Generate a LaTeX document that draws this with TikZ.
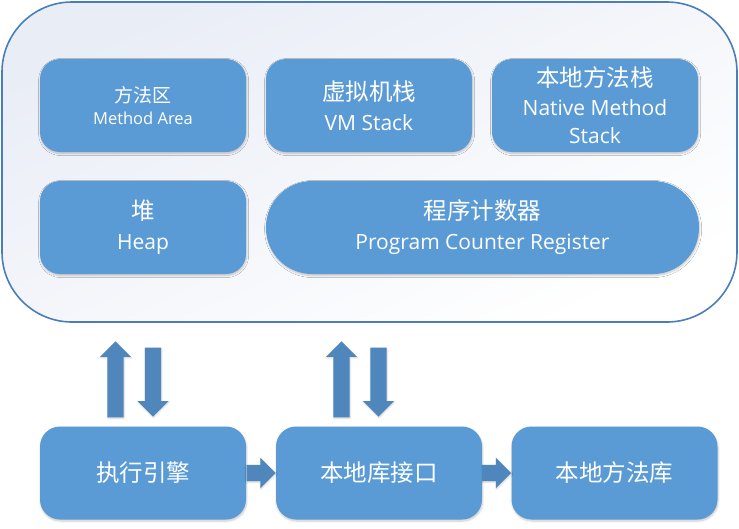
\documentclass[tikz,border=0pt]{standalone}
\usepackage{fontspec}
\setmainfont{Open Sans}
\newfontfamily\cjk{Noto Sans CJK SC}
\usetikzlibrary{shapes.arrows,shadows.blur,calc}
\definecolor{boxblue}{HTML}{5B9BD5}
\definecolor{arrblue}{HTML}{4F87BC}
\definecolor{outline}{HTML}{4A7EBB}
\definecolor{paleblue}{HTML}{E9EDF6}
\newcommand{\zh}[2]{{\cjk\fontsize{#1}{#1}\selectfont #2}}
\tikzset{
  blk/.style={rectangle, rounded corners=20pt, fill=boxblue, text=white,
    minimum width=206pt, minimum height=93pt, inner sep=0pt, align=center,
    blur shadow={shadow blur steps=6, shadow xshift=0.6pt, shadow yshift=-1.5pt, shadow opacity=22, shadow blur radius=2pt}},
  barrow/.style={single arrow, fill=arrblue, draw=none, inner sep=8pt,
    minimum width=31pt, single arrow head extend=7.5pt, single arrow head indent=0pt,
    blur shadow={shadow blur steps=4, shadow xshift=0.5pt, shadow yshift=-1pt, shadow opacity=18, shadow blur radius=1.5pt}},
}
\begin{document}
\begin{tikzpicture}[x=1pt,y=-1pt]
\useasboundingbox (0,0) rectangle (739,528);
% outer container
\node (jvm) [rectangle, rounded corners=70pt, minimum width=735pt, minimum height=320pt,
  draw=outline, line width=1.6pt, top color=paleblue, bottom color=white, shading angle=25,
  inner sep=0pt] at (369.5,162) {};
% runtime data areas
\node (ma) [blk, font=\fontsize{16.5}{22}\selectfont] at (143,105.5)
  {\zh{19}{方法区}\\Method Area};
\node (vm) [blk, font=\fontsize{21}{30}\selectfont] at (369,105.5)
  {\zh{23.5}{虚拟机栈}\\VM Stack};
\node (ns) [blk, font=\fontsize{21}{28.5}\selectfont] at (595,105.5)
  {\zh{23.5}{本地方法栈}\\Native Method\\Stack};
\node (heap) [blk, font=\fontsize{21}{30}\selectfont] at (143,227.5)
  {\zh{23.5}{堆}\\Heap};
\node (pc) [blk, rounded corners=46pt, minimum width=433pt, font=\fontsize{21}{30}\selectfont] at (482.5,227.5)
  {\zh{23.5}{程序计数器}\\Program Counter Register};
% bottom row
\node (ee) [blk, font=\cjk\fontsize{23.5}{23.5}\selectfont] at (143,473) {执行引擎};
\node (ni) [blk, font=\cjk\fontsize{23.5}{23.5}\selectfont] at (379,473) {本地库接口};
\node (nl) [blk, font=\cjk\fontsize{23.5}{23.5}\selectfont] at (614.5,473) {本地方法库};
% block arrows
\node (up1) [barrow, minimum height=76pt, shape border rotate=90, anchor=tip] at (115.5,341) {};
\node (dn1) [barrow, minimum height=69pt, shape border rotate=270, anchor=tip] at (153,417) {};
\node (up2) [barrow, minimum height=76pt, shape border rotate=90, anchor=tip] at (341.5,341) {};
\node (dn2) [barrow, minimum height=69pt, shape border rotate=270, anchor=tip] at (378.5,417) {};
\node (r1) [barrow, minimum width=30pt, minimum height=29pt, single arrow head extend=7pt, anchor=tip] at (ni.west) {};
\node (r2) [barrow, minimum width=30pt, minimum height=29pt, single arrow head extend=7pt, anchor=tip] at (nl.west) {};
\end{tikzpicture}
\end{document}
